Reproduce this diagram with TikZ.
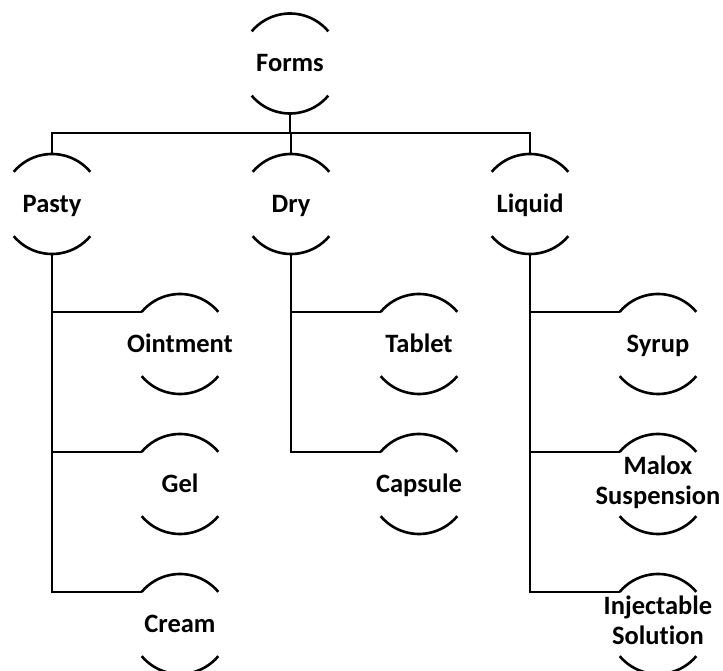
\documentclass[tikz,border=0pt]{standalone}
\usepackage{fontspec}
\setmainfont{Carlito}[RawFeature=-liga]
\tikzset{
  x=1pt, y=1pt,
  cn/.style={inner sep=0pt, align=center, text height=16.6pt, text depth=0pt,
    font=\fontsize{26.5}{30}\selectfont\bfseries},
  two/.style={text height=46.6pt},
  ln/.style={line width=2.6pt, black},
}
\newcommand\cnode[4][]{%
  \node[cn,#1] (#2) at (#3) {#4};
  \coordinate (#2-l) at ([shift={(140:50pt)}]#3);
  \coordinate (#2-r) at ([shift={(40:50pt)}]#3);
  \coordinate (#2-bl) at ([shift={(220:50pt)}]#3);
  \coordinate (#2-t) at ([shift={(0,50pt)}]#3);
  \coordinate (#2-b) at ([shift={(0,-50pt)}]#3);
  \draw[ln] (#2-r) arc[start angle=40, end angle=140, radius=50pt];
  \draw[ln] (#2-bl) arc[start angle=220, end angle=320, radius=50pt];
}
\begin{document}
\begin{tikzpicture}
\useasboundingbox (0,0) rectangle (723,670);
\cnode{forms}{290,606.5}{Forms}
\cnode{pasty}{52,466}{Pasty}
\cnode{dry}{291,466}{Dry}
\cnode{liquid}{530,466}{Liquid}
\cnode{ointment}{180,326}{Ointment}
\cnode{gel}{180,186}{Gel}
\cnode{cream}{180,46}{Cream}
\cnode{tablet}{419,326}{Tablet}
\cnode{capsule}{419,186}{Capsule}
\cnode{syrup}{658,326}{Syrup}
\cnode[two,yshift=3pt]{malox}{658,186}{Malox\\Suspension}
\cnode[two,yshift=3pt]{inject}{658,46}{Injectable\\Solution}
\coordinate (bus) at (0,537);
\draw[ln] (forms-b) -- (forms-b |- bus);
\draw[ln] (pasty-t) -- (pasty-t |- bus) -- (liquid-t |- bus) -- (liquid-t);
\draw[ln] (dry-t) -- (dry-t |- bus);
\draw[ln] (pasty-b) |- (cream-l);
\draw[ln] (pasty-b |- ointment-l) -- (ointment-l);
\draw[ln] (pasty-b |- gel-l) -- (gel-l);
\draw[ln] (dry-b) |- (capsule-l);
\draw[ln] (dry-b |- tablet-l) -- (tablet-l);
\draw[ln] (liquid-b) |- (inject-l);
\draw[ln] (liquid-b |- syrup-l) -- (syrup-l);
\draw[ln] (liquid-b |- malox-l) -- (malox-l);
\end{tikzpicture}
\end{document}
